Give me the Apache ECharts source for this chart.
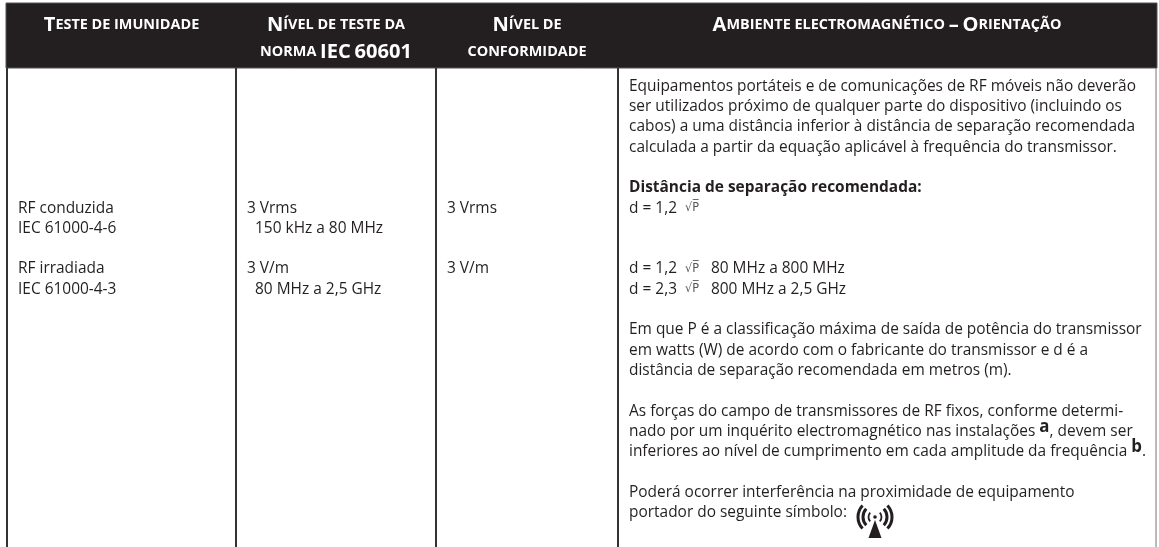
<!DOCTYPE html>
<html>
<head>
<meta charset="utf-8">
<style>
  html, body { margin: 0; padding: 0; background: #fff; }
  #main { width: 1159px; height: 547px; }
</style>
<script src="https://cdn.jsdelivr.net/npm/echarts@6/dist/echarts.min.js"></script>
</head>
<body>
<div id="main"></div>
<script>
// header cells, one array per column, one string per header line
const headTest = ['Teste de imunidade'];
const headLevel = ['Nível de teste da', 'norma IEC 60601'];
const headConf = ['Nível de', 'conformidade'];
const headEnv = ['Ambiente electromagnético – Orientação'];

// body cells: index in the array is the text row, '' keeps a row free
const colTest = ['', '', '', '', '', '', 'RF conduzida', 'IEC 61000-4-6', '', 'RF irradiada', 'IEC 61000-4-3'];
const colLevel = ['', '', '', '', '', '', '3 Vrms', '  150 kHz a 80 MHz', '', '3 V/m', '  80 MHz a 2,5 GHz'];
const colConf = ['', '', '', '', '', '', '3 Vrms', '', '', '3 V/m'];
const colEnv = [
    'Equipamentos portáteis e de comunicações de RF móveis não deverão',
    'ser utilizados próximo de qualquer parte do dispositivo (incluindo os',
    'cabos) a uma distância inferior à distância de separação recomendada',
    'calculada a partir da equação aplicável à frequência do transmissor.',
    '',
    '{b|Distância de separação recomendada:}',
    'd = 1,2  {root|√P̅}',
    '',
    '',
    'd = 1,2  {root|√P̅}   80 MHz a 800 MHz',
    'd = 2,3  {root|√P̅}   800 MHz a 2,5 GHz',
    '',
    'Em que P é a classificação máxima de saída de potência do transmissor',
    'em watts (W) de acordo com o fabricante do transmissor e d é a',
    'distância de separação recomendada em metros (m).',
    '',
    'As forças do campo de transmissores de RF fixos, conforme determi-',
    'nado por um inquérito electromagnético nas instalações {sup|a}, devem ser',
    'inferiores ao nível de cumprimento em cada amplitude da frequência {sup|b}.',
    '',
    'Poderá ocorrer interferência na proximidade de equipamento',
    'portador do seguinte símbolo:'
];

const INK = '#231f20';
const FONT = '"Open Sans", sans-serif';
const edges = [7, 236, 436, 618, 1156];
const pad = 11;
const rowPx = 20.3, row0Px = 86;
const toRow = function (py) { return (py - row0Px) / rowPx; };

// "Teste de" -> capitals stay big, the rest goes to small caps
function smallCaps(s) {
    return s.replace(/[^\sA-ZÀ-Ý0-9–]+|[A-ZÀ-Ý0-9–]+/g, function (m) {
        return /[A-ZÀ-Ý0-9–]/.test(m[0]) ? '{cap|' + m + '}' : '{low|' + m.toUpperCase() + '}';
    }).replace(/ /g, '{low| }');
}

const headers = [headTest, headLevel, headConf, headEnv];
const bodies = [colTest, colLevel, colConf, colEnv];

const items = [];
headers.forEach(function (lines, c) {
    lines.forEach(function (t, i) {
        items.push(['head', (edges[c] + edges[c + 1]) / 2, toRow(i ? 52 : 25), smallCaps(t)]);
    });
});
bodies.forEach(function (lines, c) {
    lines.forEach(function (t, i) {
        if (t) items.push(['body', edges[c] + pad, i, t]);
    });
});

function renderItem(params, api) {
    const it = items[params.dataIndex];
    const p = api.coord([it[1], it[2]]);
    if (it[0] === 'head') {
        return {
            type: 'text', x: p[0], y: p[1], scaleX: 1.03,
            style: {
                text: it[3], align: 'center', verticalAlign: 'middle', fill: '#fff',
                rich: {
                    cap: { fontFamily: FONT, fontSize: 19.5, fontWeight: 700, fill: '#fff' },
                    low: { fontFamily: FONT, fontSize: 14, fontWeight: 700, fill: '#fff' }
                }
            }
        };
    }
    return {
        type: 'text', x: p[0], y: p[1], scaleX: 0.936,
        style: {
            text: it[3], align: 'left', verticalAlign: 'middle', fill: INK,
            fontFamily: FONT, fontSize: 16.5,
            rich: {
                b: { fontFamily: FONT, fontSize: 16.5, fontWeight: 700, fill: INK },
                root: { fontFamily: 'DejaVu Sans', fontSize: 12, fill: '#555' },
                sup: { fontFamily: FONT, fontSize: 18, fontWeight: 700, fill: INK, padding: [0, 0, 9, 0] }
            }
        }
    };
}

function renderFrame(params, api) {
    const tl = api.coord([edges[0] - 1, toRow(3)]);
    const br = api.coord([edges[4] + 1, toRow(68)]);
    const bottom = api.coord([0, toRow(547)])[1];
    const kids = [{
        type: 'rect',
        shape: { x: tl[0], y: tl[1], width: br[0] - tl[0], height: br[1] - tl[1] },
        style: { fill: INK, stroke: '#555', lineWidth: 1 }
    }];
    edges.forEach(function (e, i) {
        const x = api.coord([e, 0])[0];
        kids.push({
            type: 'line',
            shape: { x1: x, y1: br[1], x2: x, y2: bottom },
            style: { stroke: i === 4 ? '#777' : '#333', lineWidth: i === 4 ? 1 : 2 }
        });
    });
    return { type: 'group', children: kids };
}

// non-ionizing radiation symbol after "portador do seguinte símbolo:"
function renderIcon(params, api) {
    const c = api.coord([875, toRow(517)]);
    const x = c[0], y = c[1];
    const kids = [
        { type: 'polygon', shape: { points: [[x, y + 3], [x - 6.5, y + 21], [x + 6.5, y + 21]] }, style: { fill: INK } },
        { type: 'circle', shape: { cx: x, cy: y, r: 1.8 }, style: { fill: INK } }
    ];
    [6.5, 12, 17].forEach(function (r, i) {
        [0, Math.PI].forEach(function (mid) {
            kids.push({
                type: 'arc',
                shape: { cx: x, cy: y, r: r, startAngle: mid - 0.75, endAngle: mid + 0.75 },
                style: { fill: 'none', stroke: INK, lineWidth: i === 0 ? 1.8 : 3 }
            });
        });
    });
    return { type: 'group', children: kids };
}

const chart = echarts.init(document.getElementById('main'), null, { renderer: 'canvas' });
chart.setOption({
    animation: false,
    tooltip: { show: false },
    grid: { left: 0, right: 0, top: 0, bottom: 0 },
    xAxis: { type: 'value', min: 0, max: 1159, show: false },
    yAxis: { type: 'value', min: toRow(0), max: toRow(547), inverse: true, show: false },
    series: [
        { type: 'custom', coordinateSystem: 'cartesian2d', silent: true, clip: false, data: [[0, 0]], renderItem: renderFrame },
        { type: 'custom', coordinateSystem: 'cartesian2d', silent: true, clip: false, data: items.map(function (it) { return [it[1], it[2]]; }), renderItem: renderItem },
        { type: 'custom', coordinateSystem: 'cartesian2d', silent: true, clip: false, data: [[0, 0]], renderItem: renderIcon }
    ]
});
</script>
</body>
</html>
